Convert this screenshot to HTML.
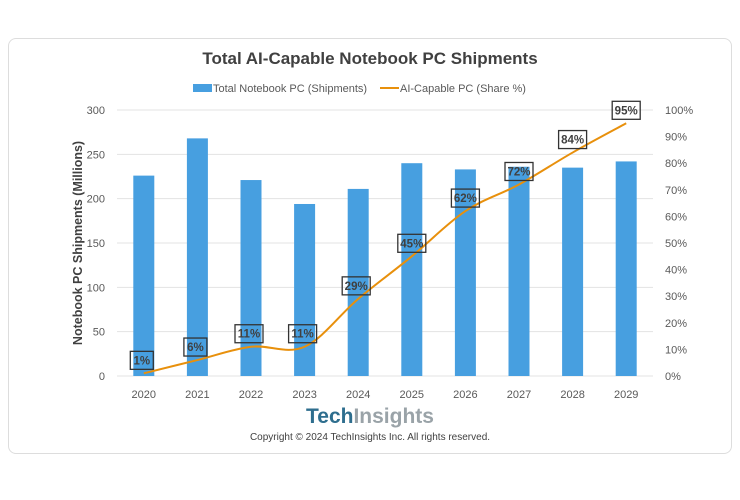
<!DOCTYPE html>
<html><head><meta charset="utf-8">
<style>
html,body{margin:0;padding:0;background:#fff;width:740px;height:500px;overflow:hidden;font-family:"Liberation Sans","DejaVu Sans",sans-serif;}
#card{position:absolute;left:8px;top:38px;width:724px;height:416px;border:1px solid #ddd;border-radius:8px;box-sizing:border-box;}
svg{position:absolute;left:0;top:0;}
</style></head>
<body>
<div id="card"></div>
<svg id="chart" width="740" height="500"></svg>
<script>
const categories=["2020","2021","2022","2023","2024","2025","2026","2027","2028","2029"];
const shipments=[226,268,221,194,211,240,233,236,235,242];
const aiShare=[1,6,11,11,29,45,62,72,84,95];
const leftTicks=[0,50,100,150,200,250,300];
const rightTicks=[0,10,20,30,40,50,60,70,80,90,100];

const NS="http://www.w3.org/2000/svg";
const svg=document.getElementById('chart');
const L=117,R=653,T=110,B=376;
const step=(R-L)/categories.length;
const xC=i=>L+step*(i+0.5);
const yL=v=>B-(v/300)*(B-T);
const yR=v=>B-(v/100)*(B-T);
function el(tag,attrs,txt){const e=document.createElementNS(NS,tag);for(const k in attrs)e.setAttribute(k,attrs[k]);if(txt!==undefined)e.textContent=txt;svg.appendChild(e);return e;}

let t=el('text',{x:370,y:64,'text-anchor':'middle','font-size':'17','font-weight':'bold',fill:'#404040'},'Total AI-Capable Notebook PC Shipments');

let lg=el('rect',{x:193,y:84,width:19,height:8,fill:'#479fe0'});

t=el('text',{x:213,y:92,'font-size':'11',fill:'#595959'},'Total Notebook PC (Shipments)');

lg=el('line',{x1:380,y1:88,x2:399,y2:88,stroke:'#e8900c','stroke-width':2});

t=el('text',{x:400,y:92,'font-size':'11',fill:'#595959'},'AI-Capable PC (Share %)');


leftTicks.forEach(v=>{
  const g=el('line',{x1:L,x2:R,y1:yL(v),y2:yL(v),stroke:'#e3e3e3','stroke-width':1});
  
  const tx=el('text',{x:L-12,y:yL(v)+4,'text-anchor':'end','font-size':'11',fill:'#595959'},v);
  
});
rightTicks.forEach(v=>{
  const tx=el('text',{x:665,y:yR(v)+4,'font-size':'11',fill:'#595959'},v+'%');
  
});
t=el('text',{x:0,y:0,transform:'translate(82,243) rotate(-90)','text-anchor':'middle','font-size':'12.5','font-weight':'bold',fill:'#404040'},'Notebook PC Shipments (Millions)');


categories.forEach((c,i)=>{
  const b=el('rect',{x:xC(i)-10.5,y:yL(shipments[i]),width:21,height:B-yL(shipments[i]),fill:'#479fe0'});
  
  const tx=el('text',{x:xC(i),y:B+22,'text-anchor':'middle','font-size':'11',fill:'#595959'},c);
  
});

const pts=aiShare.map((v,i)=>[xC(i),yR(v)]);
let d='M'+pts[0][0]+','+pts[0][1];
for(let i=0;i<pts.length-1;i++){
  const p0=pts[Math.max(0,i-1)],p1=pts[i],p2=pts[i+1],p3=pts[Math.min(pts.length-1,i+2)];
  const k=0.17;
  const c1=[p1[0]+(p2[0]-p0[0])*k,p1[1]+(p2[1]-p0[1])*k];
  const c2=[p2[0]-(p3[0]-p1[0])*k,p2[1]-(p3[1]-p1[1])*k];
  d+=` C${c1[0]},${c1[1]} ${c2[0]},${c2[1]} ${p2[0]},${p2[1]}`;
}
const line=el('path',{d:d,fill:'none',stroke:'#e8900c','stroke-width':2});


aiShare.forEach((v,i)=>{
  const w=v>=10?28:23,cx=xC(i)+(i<5?-2:0),cy=yR(v)-13;
  const r=el('rect',{x:cx-w/2,y:cy-9,width:w,height:18,fill:'none',stroke:'#333','stroke-width':1.3});
  
  const tx=el('text',{x:cx,y:cy+4,'text-anchor':'middle','font-size':'11.5','font-weight':'bold',fill:'#404040'},v+'%');
  
});

t=el('text',{x:370,y:423,'text-anchor':'middle','font-size':'21','font-weight':'bold'});

const s1=document.createElementNS(NS,'tspan');s1.setAttribute('fill','#2e6e8e');s1.textContent='Tech';t.appendChild(s1);
const s2=document.createElementNS(NS,'tspan');s2.setAttribute('fill','#9aa3a8');s2.textContent='Insights';t.appendChild(s2);
t=el('text',{x:370,y:440,'text-anchor':'middle','font-size':'10',fill:'#404040'},'Copyright © 2024 TechInsights Inc.  All rights reserved.');

</script>
</body></html>
